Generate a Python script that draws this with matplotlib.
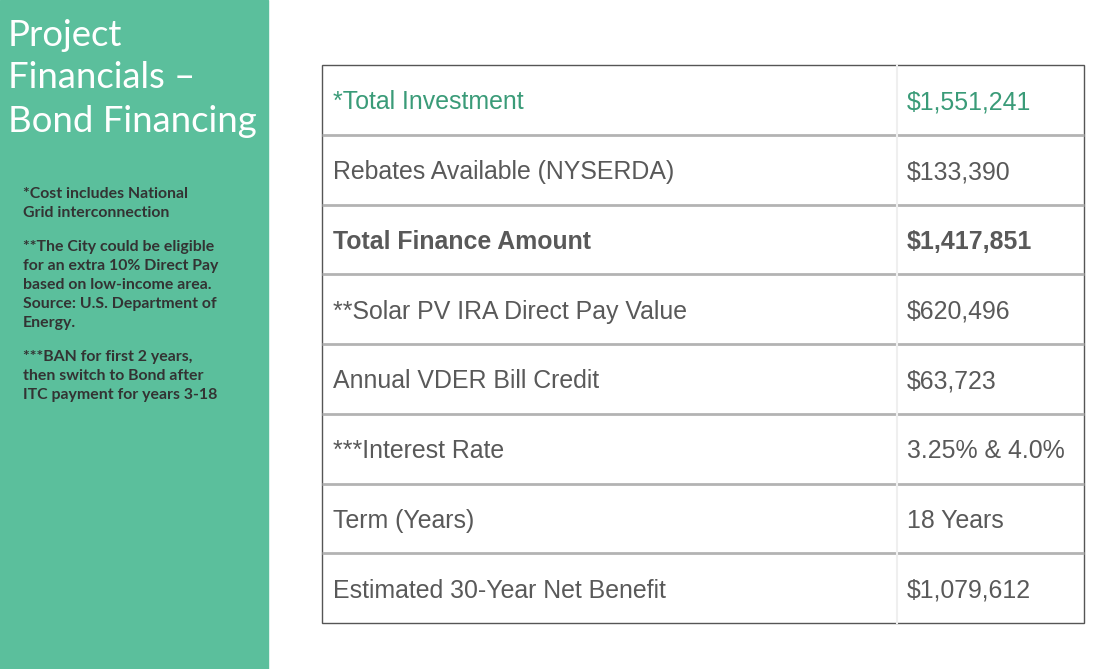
import matplotlib
matplotlib.use("Agg")
import matplotlib.pyplot as plt
from matplotlib.patches import Rectangle

# slide content
title_lines = ["Project", "Financials \u2013", "Bond Financing"]
notes = [
    ["*Cost includes National", "Grid interconnection"],
    ["**The City could be eligible", "for an extra 10% Direct Pay",
     "based on low-income area.", "Source: U.S. Department of", "Energy."],
    ["***BAN for first 2 years,", "then switch to Bond after",
     "ITC payment for years 3-18"],
]
row_labels = ["*Total Investment", "Rebates Available (NYSERDA)", "Total Finance Amount",
              "**Solar PV IRA Direct Pay Value", "Annual VDER Bill Credit",
              "***Interest Rate", "Term (Years)", "Estimated 30-Year Net Benefit"]
row_values = ["$1,551,241", "$133,390", "$1,417,851", "$620,496", "$63,723",
              "3.25% & 4.0%", "18 Years", "$1,079,612"]
bold_rows = [2]
green_rows = [0]

panel_green = "#5bbf9c"
text_green = "#3a9b78"
text_gray = "#595959"

W, H = 1110, 669
fig = plt.figure(figsize=(W / 100, H / 100), dpi=100)
ax = fig.add_axes([0, 0, 1, 1])
ax.set_xlim(0, W)
ax.set_ylim(H, 0)
ax.axis("off")

# left panel
ax.add_patch(Rectangle((0, 0), 268, H, color=panel_green, zorder=0))
for i, line in enumerate(title_lines):
    ax.text(8, 35 + i * 43, line, color="white", fontsize=26.3, family="Lato",
            va="center", ha="left")

y = 194
for block in notes:
    for line in block:
        ax.text(23, y, line, color="#333333", fontsize=11.4, family="Lato",
                fontweight="bold", va="center", ha="left")
        y += 19
    y += 15

# table
x0, x1, xsep = 322, 1084, 897
y0, y1 = 65, 623
n = len(row_labels)
rh = (y1 - y0) / n
for i in range(1, n):
    yy = y0 + i * rh
    ax.plot([x0, x1], [yy, yy], color="#b3b3b3", lw=2, solid_capstyle="butt")
ax.plot([xsep, xsep], [y0, y1], color="#efefef", lw=1.5)
ax.add_patch(Rectangle((x0, y0), x1 - x0, y1 - y0, fill=False, ec="#555555", lw=1))

for i, (lab, val) in enumerate(zip(row_labels, row_values)):
    yc = y0 + (i + 0.5) * rh + 2.5
    col = text_green if i in green_rows else text_gray
    fw = "bold" if i in bold_rows else "normal"
    ax.text(333, yc, lab, color=col, fontsize=17.9, family="Liberation Sans",
            fontweight=fw, va="center", ha="left")
    ax.text(907, yc, val, color=col, fontsize=17.9, family="Liberation Sans",
            fontweight=fw, va="center", ha="left")

fig.savefig("out.png", dpi=100)
